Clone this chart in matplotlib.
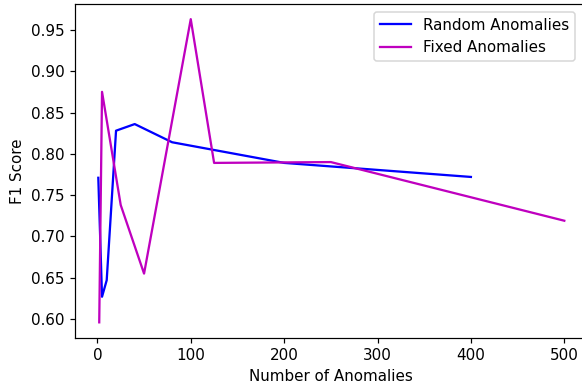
import matplotlib
matplotlib.use("Agg")
import matplotlib.pyplot as plt

# values
random_x = [1, 5, 10, 20, 40, 80, 200, 400]
random_f1 = [0.771, 0.627, 0.647, 0.828, 0.836, 0.814, 0.789, 0.772]

fixed_x = [2, 5, 25, 50, 100, 125, 250, 500]
fixed_f1 = [0.596, 0.875, 0.738, 0.655, 0.963, 0.789, 0.790, 0.719]

dpi = 109
fig = plt.figure(figsize=(582 / dpi, 387 / dpi), dpi=dpi)
# right spine falls just outside the saved picture in the reference
ax = fig.add_axes([75 / 582, 1 - 337.5 / 387, (587.6 - 75) / 582, (337.5 - 4) / 387])

ax.plot(random_x, random_f1, "b", label="Random Anomalies")
ax.plot(fixed_x, fixed_f1, "m", label="Fixed Anomalies")

ax.set_xlabel("Number of Anomalies")
ax.set_ylabel("F1 Score")
ax.legend(loc="upper right", bbox_to_anchor=(0.99, 1.0))

fig.savefig("out.png", dpi=dpi)
